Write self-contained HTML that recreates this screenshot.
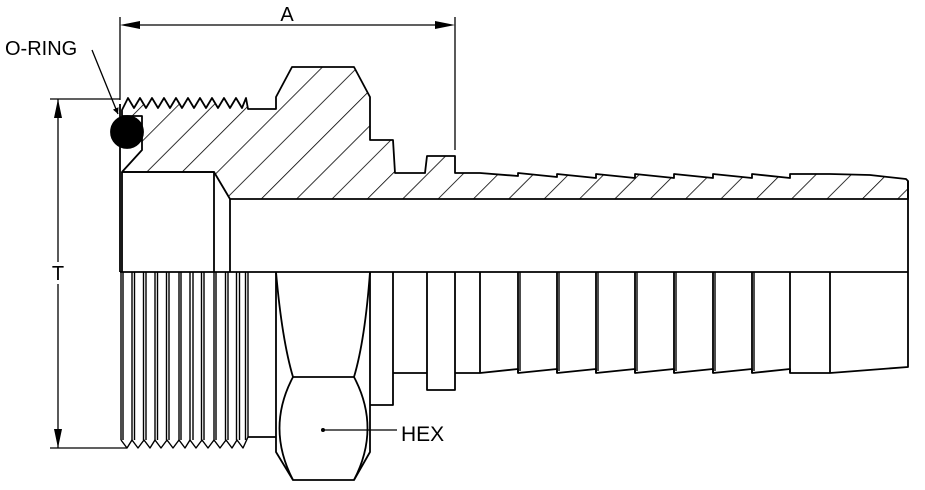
<!DOCTYPE html>
<html><head><meta charset="utf-8"><style>
html,body{margin:0;padding:0;background:#fff;width:925px;height:490px;overflow:hidden}
svg{display:block}
text{font-family:"Liberation Sans",sans-serif;fill:#000}
</style></head><body>
<svg width="925" height="490" viewBox="0 0 925 490" xmlns="http://www.w3.org/2000/svg">
<defs>
<pattern id="h" patternUnits="userSpaceOnUse" width="25" height="25" patternTransform="rotate(45)">
<line x1="0" y1="0" x2="0" y2="25" stroke="#000" stroke-width="1.6"/>
</pattern>
<marker id="ar" viewBox="0 0 10 10" refX="10" refY="5" markerWidth="12" markerHeight="6" markerUnits="userSpaceOnUse" orient="auto"><path d="M0,0 L10,5 L0,10 Z" fill="#000"/></marker>
</defs>
<g fill="none" stroke="#000" stroke-width="1.8" stroke-linejoin="round">
<line x1="120" y1="17" x2="120" y2="100" stroke-width="1.3"/>
<line x1="455" y1="17" x2="455" y2="150" stroke-width="1.3"/>
<line x1="134" y1="25" x2="441" y2="25" stroke-width="1.3"/>
<path d="M120,25 L140,21 L140,29 Z M455,25 L435,21 L435,29 Z" fill="#000" stroke="none"/>
<line x1="50" y1="99" x2="120" y2="99" stroke-width="1.3"/>
<line x1="50" y1="448" x2="127" y2="448" stroke-width="1.3"/>
<line x1="58" y1="99" x2="58" y2="262" stroke-width="1.3"/>
<line x1="58" y1="284" x2="58" y2="448" stroke-width="1.3"/>
<path d="M58,99 L54,118 L62,118 Z M58,448 L54,429 L62,429 Z" fill="#000" stroke="none"/>
<line x1="92" y1="50" x2="118" y2="114" stroke-width="1.3" marker-end="url(#ar)"/>
<path fill="url(#h)" d="M122,172 L142,150 L142,116 L122,116 L122,110 L128,98 L134,108 L140,98 L146,108 L152,98 L158,108 L164,98 L170,108 L176,98 L182,108 L188,98 L194,108 L200,98 L206,108 L212,98 L218,108 L224,98 L230,108 L236,98 L242,108 L246,98 L248,109 L276,109 L276,97 L292,67 L354,67 L370,97 L370,140 L393,140 L395,173 L425,173 L427,156 L455,156 L455,173 L480,173 L518,176 L518,173 L557,177 L557,174 L596,178 L596,174 L635,178 L635,174 L674,178 L674,174 L713,178 L713,174 L752,178 L752,174 L790,178 L790,174 L830,174 L870,175 L906,179 L908,181 L908,199 L230,199 L214,172 Z"/>
<circle cx="127" cy="132" r="16" fill="#000"/>
<path d="M122,172 L214,172 L214,272 M122,172 L122,272 M230,199 L230,272 M908,181 L908,272"/>
<line x1="120" y1="104" x2="120" y2="272"/>
<line x1="120" y1="272" x2="908" y2="272"/>
<g stroke-width="1.4">
<path d="M121,272 L121,440 M123,272 L123,440 M132,272 L132,440 M134.5,272 L134.5,440 M143.5,272 L143.5,440 M146,272 L146,440 M155,272 L155,440 M157.5,272 L157.5,440 M166.5,272 L166.5,440 M169,272 L169,440 M179,272 L179,440 M181,272 L181,440 M190,272 L190,440 M193,272 L193,440 M201.5,272 L201.5,440 M204,272 L204,440 M214,272 L214,440 M216,272 L216,440 M225.5,272 L225.5,440 M228,272 L228,440 M236.5,272 L236.5,440 M239.5,272 L239.5,440 M245.5,272 L245.5,440 M248,272 L248,437"/>
<path d="M121,440 L127,448 L132,440 L138,448 L144,440 L150,448 L155,440 L161,448 L167,440 L173,448 L179,440 L185,448 L190,440 L196,448 L202,440 L208,448 L214,440 L220,448 L226,440 L232,448 L237,440 L243,448 L248,437"/>
</g>
<line x1="248" y1="437" x2="276" y2="437"/>
<path d="M276,272 L276,452 L293,480 L354,480 L370,452 L370,272"/>
<path d="M276,272 Q282,340 293,377 L354,377 Q365,340 370,272"/>
<path d="M293,377 Q266,428 293,480 M354,377 Q381,428 354,480"/>
<path d="M370,405 L393,405 L393,272 M393,373 L427,373 L427,390 L455,390 L455,272 M427,272 L427,373"/>
<path d="M455,373 L480,373 L518,369 L518,373 L557,369 L557,373 L596,369 L596,373 L635,369 L635,373 L674,369 L674,373 L713,369 L713,373 L752,369 L752,373 L790,369 L790,373 L830,373 L908,367 L908,272"/>
<path d="M480,272 L480,373 M518,272 L518,373 M557,272 L557,373 M596,272 L596,373 M635,272 L635,373 M674,272 L674,373 M713,272 L713,373 M752,272 L752,373 M790,272 L790,373 M830,272 L830,373"/>
<path d="M520,272 L520,371 M559,272 L559,371 M598,272 L598,371 M637,272 L637,371 M676,272 L676,371 M715,272 L715,371 M754,272 L754,371" stroke-width="1.4"/>
<line x1="323" y1="430" x2="397" y2="430" stroke-width="1.3"/>
</g>
<circle cx="323" cy="430" r="2" fill="#000"/>
<text x="287" y="21" font-size="20" text-anchor="middle">A</text>
<text x="5" y="55" font-size="20">O-RING</text>
<text x="58" y="280" font-size="20" text-anchor="middle">T</text>
<text x="401" y="441" font-size="21">HEX</text>
</svg>
</body></html>
